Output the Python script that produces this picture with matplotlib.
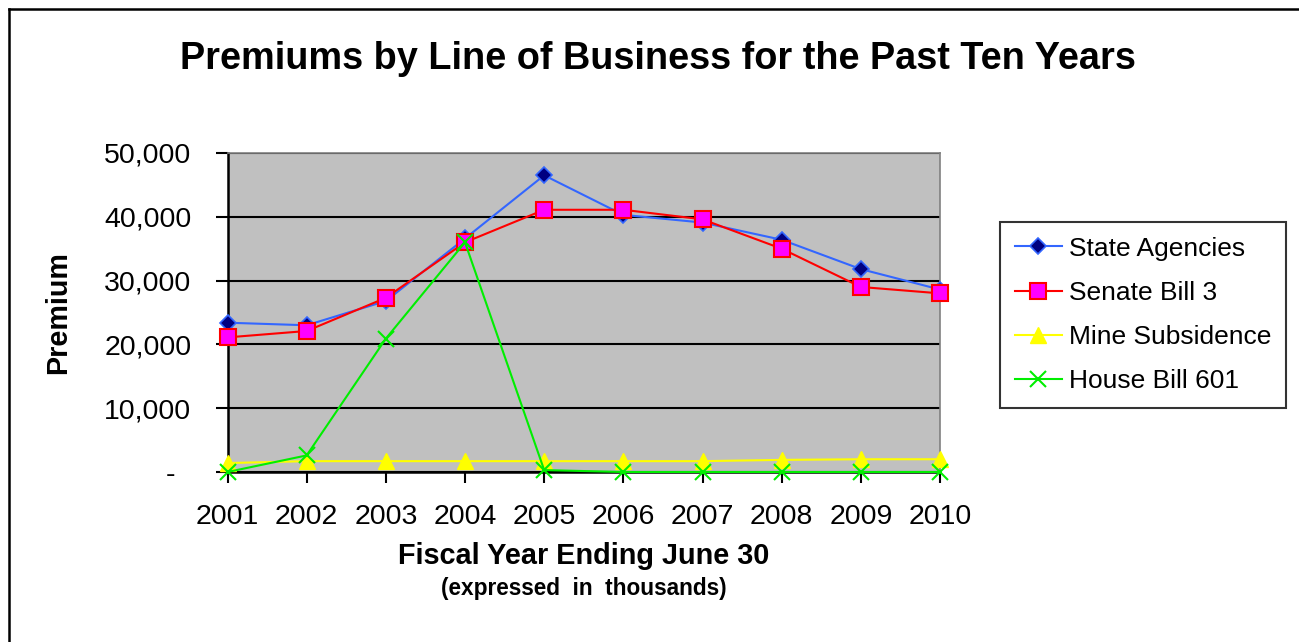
import matplotlib
matplotlib.use('Agg')
import matplotlib.pyplot as plt
from matplotlib.lines import Line2D

plt.rcParams['font.family'] = ['Liberation Sans', 'DejaVu Sans']

# data (thousands)
years = ['2001', '2002', '2003', '2004', '2005', '2006', '2007', '2008', '2009', '2010']
state_agencies = [23400, 23000, 26800, 36600, 46500, 40300, 39100, 36400, 31800, 28600]
senate_bill_3 = [21100, 22100, 27300, 36000, 41100, 41100, 39600, 35000, 29000, 28000]
mine_subsidence = [1400, 1700, 1700, 1700, 1700, 1700, 1700, 1900, 2000, 2000]
house_bill_601 = [0, 2600, 20900, 36000, 300, 0, 0, 0, 0, 0]
y_ticks = [0, 10000, 20000, 30000, 40000, 50000]
y_labels = ['-  ', '10,000', '20,000', '30,000', '40,000', '50,000']

W, H = 1299, 642
fig = plt.figure(figsize=(W / 100, H / 100), dpi=100)

# figure frame (top and left edges visible)
fig.add_artist(Line2D([9 / W, 1.01], [1 - 9 / H, 1 - 9 / H], transform=fig.transFigure, color='black', lw=1.8))
fig.add_artist(Line2D([9 / W, 9 / W], [-0.01, 1 - 9 / H], transform=fig.transFigure, color='black', lw=1.8))

ax = fig.add_axes([227.5 / W, 1 - 472 / H, (940 - 227.5) / W, (472 - 153) / H])
ax.set_facecolor('#C0C0C0')

x = range(len(years))
ax.plot(x, state_agencies, color='#3366FF', lw=1.5, marker='D', ms=8,
        mfc='#000080', mec='#3366FF', mew=1.2, label='State Agencies', zorder=4)
ax.plot(x, senate_bill_3, color='#FF0000', lw=1.5, marker='s', ms=11,
        mfc='#FF00FF', mec='#FF0000', mew=1.5, label='Senate Bill 3', zorder=5)
ax.plot(x, mine_subsidence, color='#FFFF00', lw=1.5, marker='^', ms=11,
        mfc='#FFFF00', mec='#FFFF00', label='Mine Subsidence', zorder=3)
ax.plot(x, house_bill_601, color='#00EE00', lw=1.5, marker='x', ms=11,
        mew=1.5, label='House Bill 601', zorder=6)

ax.set_xlim(0, len(years) - 1)
ax.set_ylim(0, 50000)
ax.set_yticks(y_ticks)
ax.set_yticklabels(y_labels, fontsize=20.5)
ax.set_xticks(list(x))
ax.set_xticklabels(years, fontsize=20.5)
ax.tick_params(axis='y', length=9, width=1.5, pad=17, direction='out')
ax.tick_params(axis='x', length=8, width=1.5, pad=15, direction='out')
ax.grid(axis='y', color='black', lw=1.5)
ax.set_axisbelow(True)
for s in ['top', 'right']:
    ax.spines[s].set_color('#808080')
    ax.spines[s].set_linewidth(1.2)
for s in ['left', 'bottom']:
    ax.spines[s].set_color('black')
    ax.spines[s].set_linewidth(1.8)
for ln in ax.lines:
    ln.set_clip_on(False)

fig.text(658 / W, 1 - 59 / H, 'Premiums by Line of Business for the Past Ten Years',
         ha='center', va='center', fontsize=27.3, fontweight='bold')
fig.text(58 / W, 1 - 313 / H, 'Premium', ha='center', va='center',
         rotation=90, fontsize=20.7, fontweight='bold')
fig.text(584 / W, 1 - 556 / H, 'Fiscal Year Ending June 30', ha='center', va='center',
         fontsize=20.8, fontweight='bold')
fig.text(584 / W, 1 - 589 / H, '(expressed  in  thousands)', ha='center', va='center',
         fontsize=16.3, fontweight='bold')

leg = fig.legend(loc='upper left', bbox_to_anchor=(1000 / W, 1 - 222 / H), fontsize=19,
                 frameon=True, fancybox=False, edgecolor='black', borderpad=0.55,
                 handlelength=1.8, handletextpad=0.25, labelspacing=0.77, borderaxespad=0)
leg.get_frame().set_linewidth(1.5)

fig.savefig('out.png', dpi=100)
